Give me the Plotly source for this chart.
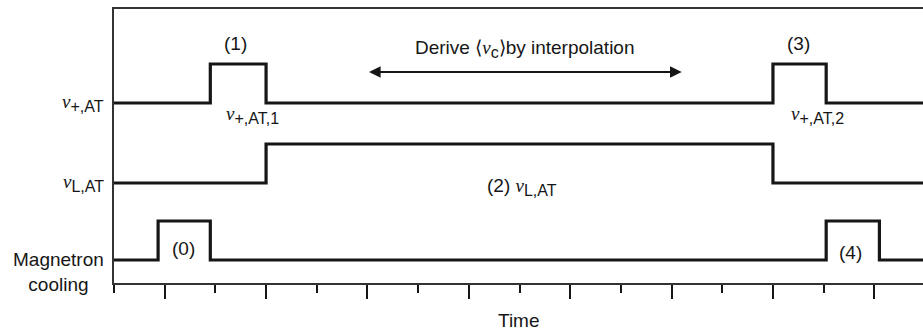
import plotly.graph_objects as go

# Time axis: tick positions (arbitrary units), odd ticks long, even ticks short
t_max = 15.96

# Step signals (hv shape): change times and levels (0 = low, 1 = high)
plus_t = [0, 1.9, 3.0, 13.0, 14.05, 16.5]
plus_v = [0, 1, 0, 1, 0, 0]
larmor_t = [0, 3.0, 13.0, 16.5]
larmor_v = [0, 1, 0, 0]
mag_t = [0, 0.87, 1.9, 14.05, 15.1, 16.5]
mag_v = [0, 1, 0, 1, 0, 0]

# vertical placement of the three traces
base_plus, base_larmor, base_mag = 180, 100, 23
amp = 39
y_top = 274

arrow_start, arrow_end = 5.0, 11.2

INK = "#161616"
SANS = "Liberation Sans, Arial, sans-serif"
SERIF = "Liberation Serif, Times New Roman, serif"
FS = 19


def nu(sub, size=19, subsize=16):
    return (f'<span style="font-family:{SERIF};font-style:italic;font-size:{size}px">ν</span>'
            f'<sub><span style="font-size:{subsize}px">{sub}</span></sub>')


fig = go.Figure()
for t, v, b in [(plus_t, plus_v, base_plus), (larmor_t, larmor_v, base_larmor), (mag_t, mag_v, base_mag)]:
    fig.add_trace(go.Scatter(x=t, y=[b + amp * k for k in v], mode="lines",
                             line=dict(color=INK, width=3.2, shape="hv"),
                             hoverinfo="skip", showlegend=False))

ann = []
# left labels
ann.append(dict(x=0, y=base_plus, xref="x", yref="y", xanchor="right", yanchor="middle",
                xshift=-8, text=nu("+,AT"), showarrow=False))
ann.append(dict(x=0, y=base_larmor, xref="x", yref="y", xanchor="right", yanchor="middle",
                xshift=-8, text=nu("L,AT"), showarrow=False))
ann.append(dict(x=0, y=base_mag - 12, xref="x", yref="y", xanchor="right", yanchor="middle",
                xshift=-8, text="Magnetron<br>cooling", align="center", showarrow=False))

# step labels
p1 = (plus_t[1] + plus_t[2]) / 2
p3 = (plus_t[3] + plus_t[4]) / 2
m0 = (mag_t[1] + mag_t[2]) / 2
m4 = (mag_t[3] + mag_t[4]) / 2
l2 = (larmor_t[1] + larmor_t[2]) / 2
ann.append(dict(x=p1 - 0.06, y=base_plus + amp, yshift=21, text="(1)", showarrow=False))
ann.append(dict(x=p3 - 0.02, y=base_plus + amp, yshift=21, text="(3)", showarrow=False))
ann.append(dict(x=m0 - 0.02, y=base_mag, yshift=12, text="(0)", showarrow=False))
ann.append(dict(x=m4 - 0.05, y=base_mag, yshift=8, text="(4)", showarrow=False))
ann.append(dict(x=l2 + 0.05, y=base_larmor, yshift=-4, text="(2) " + nu("L,AT"), showarrow=False))
ann.append(dict(x=plus_t[2] - 0.26, y=base_plus, yshift=-12, text=nu("+,AT,1"), showarrow=False))
ann.append(dict(x=plus_t[4] - 0.17, y=base_plus, yshift=-12, text=nu("+,AT,2"), showarrow=False))

# interpolation arrow and text
ann.append(dict(x=arrow_end, y=211, ax=arrow_start, ay=211, xref="x", yref="y", axref="x", ayref="y",
                text="", showarrow=True, arrowhead=2, arrowside="end+start", arrowsize=1.3,
                arrowwidth=1.8, arrowcolor=INK))
ann.append(dict(x=(arrow_start + arrow_end) / 2, y=211, yshift=23,
                text='Derive ⟨<span style="font-family:' + SERIF + ';font-style:italic;font-size:19px">ν</span>'
                     '<sub><span style="font-size:16px">c</span></sub>⟩by interpolation',
                showarrow=False))
# axis title
ann.append(dict(x=0.5, y=0, xref="paper", yref="paper", yshift=-37, yanchor="middle",
                text="Time", showarrow=False))

for a in ann:
    a.setdefault("xref", "x")
    a.setdefault("yref", "y")
    a.setdefault("font", dict(family=SANS, size=FS, color=INK))

fig.update_layout(
    width=923, height=333,
    margin=dict(l=114, r=0, t=9, b=50),
    paper_bgcolor="white", plot_bgcolor="white",
    font=dict(family=SANS, size=FS, color=INK),
    annotations=ann,
    xaxis=dict(range=[0, t_max], showgrid=False, zeroline=False, showline=True, mirror=True,
               linecolor="#333", linewidth=2, showticklabels=False,
               tickmode="linear", tick0=1, dtick=2, ticks="outside", ticklen=14,
               tickwidth=2.4, tickcolor=INK,
               minor=dict(tickmode="linear", tick0=0, dtick=1, ticks="outside", ticklen=8,
                          tickwidth=2.4, tickcolor=INK, showgrid=False)),
    yaxis=dict(range=[0, y_top], showgrid=False, zeroline=False, showline=True,
               linecolor="#333", linewidth=2, showticklabels=False, ticks=""),
)

fig.write_html("out.html")
